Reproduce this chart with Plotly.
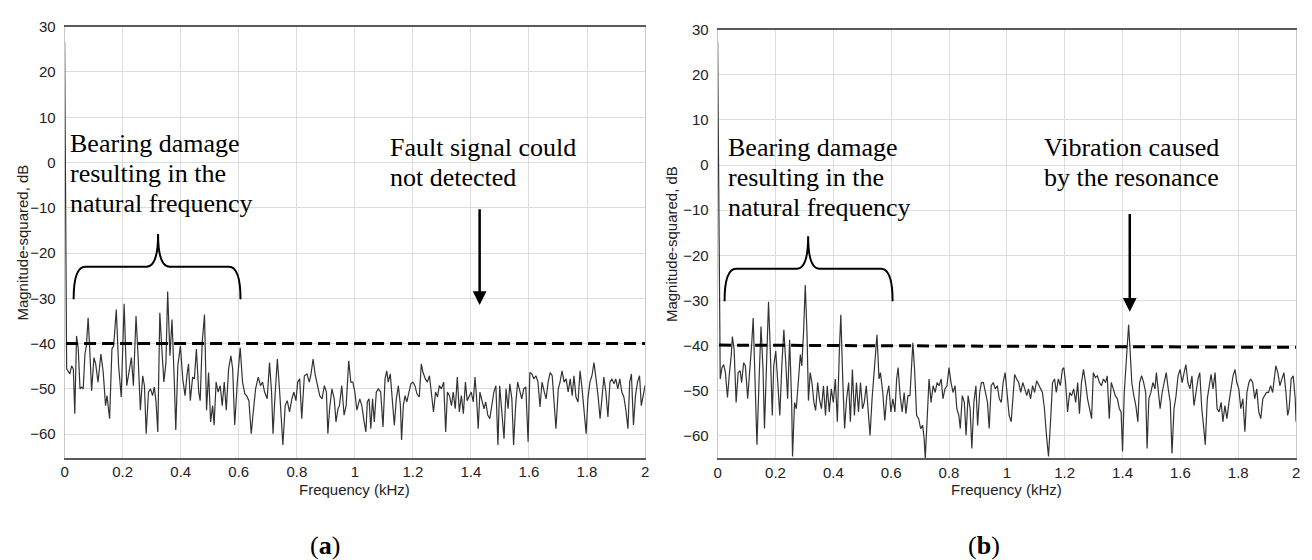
import plotly.graph_objects as go

# ---- spectrum (a): healthy-looking envelope, fault not detected ----
freq_a = [
    0.000, 0.007, 0.018, 0.024, 0.030, 0.035, 0.041, 0.047, 0.053, 0.058, 0.064, 0.070, 0.075, 0.081,
    0.087, 0.093, 0.101, 0.107, 0.115, 0.125, 0.133, 0.141, 0.146, 0.155, 0.163, 0.169, 0.178, 0.186,
    0.195, 0.205, 0.214, 0.222, 0.230, 0.237, 0.246, 0.253, 0.261, 0.269, 0.275, 0.281, 0.289, 0.296,
    0.303, 0.309, 0.315, 0.321, 0.328, 0.335, 0.342, 0.349, 0.355, 0.363, 0.370, 0.378, 0.383, 0.390,
    0.399, 0.407, 0.415, 0.422, 0.427, 0.433, 0.441, 0.447, 0.454, 0.462, 0.467, 0.474, 0.482, 0.489,
    0.496, 0.503, 0.510, 0.515, 0.522, 0.529, 0.536, 0.543, 0.550, 0.557, 0.565, 0.573, 0.579, 0.586,
    0.595, 0.605, 0.613, 0.621, 0.627, 0.635, 0.643, 0.650, 0.658, 0.667, 0.675, 0.682, 0.689, 0.698,
    0.706, 0.713, 0.718, 0.725, 0.733, 0.741, 0.746, 0.752, 0.760, 0.767, 0.775, 0.783, 0.790, 0.797,
    0.803, 0.810, 0.817, 0.826, 0.835, 0.843, 0.849, 0.856, 0.864, 0.872, 0.879, 0.887, 0.895, 0.902,
    0.907, 0.913, 0.921, 0.929, 0.935, 0.942, 0.947, 0.955, 0.963, 0.970, 0.979, 0.986, 0.993, 1.000,
    1.007, 1.017, 1.024, 1.032, 1.038, 1.043, 1.049, 1.055, 1.061, 1.067, 1.074, 1.081, 1.089, 1.097,
    1.104, 1.110, 1.115, 1.122, 1.129, 1.136, 1.143, 1.150, 1.157, 1.161, 1.167, 1.173, 1.179, 1.186,
    1.193, 1.200, 1.207, 1.214, 1.222, 1.229, 1.235, 1.243, 1.250, 1.257, 1.264, 1.271, 1.278, 1.285,
    1.291, 1.298, 1.306, 1.313, 1.319, 1.326, 1.333, 1.339, 1.346, 1.353, 1.360, 1.367, 1.374, 1.381,
    1.387, 1.394, 1.401, 1.408, 1.414, 1.419, 1.425, 1.431, 1.438, 1.445, 1.451, 1.458, 1.465, 1.472,
    1.479, 1.486, 1.493, 1.499, 1.506, 1.514, 1.521, 1.528, 1.534, 1.541, 1.547, 1.554, 1.561, 1.568,
    1.575, 1.582, 1.589, 1.597, 1.603, 1.610, 1.617, 1.624, 1.631, 1.638, 1.645, 1.653, 1.659, 1.666,
    1.673, 1.680, 1.687, 1.693, 1.701, 1.707, 1.714, 1.721, 1.728, 1.735, 1.742, 1.749, 1.755, 1.762,
    1.769, 1.776, 1.783, 1.790, 1.797, 1.803, 1.810, 1.817, 1.824, 1.831, 1.838, 1.845, 1.851, 1.858,
    1.865, 1.872, 1.879, 1.886, 1.893, 1.899, 1.906, 1.913, 1.920, 1.927, 1.934, 1.941, 1.947, 1.953,
    1.960, 1.967, 1.974, 1.981, 1.987, 1.994, 2.000,
]
mag_a = [
    26.7, -45.6, -46.7, -44.9, -45.6, -55.5, -38.3, -41.2, -50.0, -49.6, -50.0, -42.3, -40.5, -34.3,
    -42.0, -50.4, -43.1, -44.5, -48.5, -42.3, -46.4, -53.7, -51.5, -56.6, -41.2, -40.5, -32.5, -44.9,
    -51.8, -31.2, -49.3, -45.6, -43.1, -49.3, -33.9, -42.7, -54.7, -47.1, -49.3, -59.9, -50.7, -50.0,
    -51.5, -49.6, -52.9, -59.5, -33.2, -41.2, -48.5, -44.2, -28.5, -42.7, -34.7, -48.5, -59.1, -44.9,
    -40.5, -47.8, -51.5, -46.7, -44.5, -52.6, -47.4, -47.8, -41.2, -50.7, -52.6, -39.8, -33.6, -54.7,
    -46.4, -57.3, -53.7, -58.0, -48.5, -50.7, -49.3, -53.7, -48.5, -54.7, -45.6, -42.7, -45.6, -58.0,
    -48.5, -40.9, -48.5, -51.1, -51.5, -52.6, -59.9, -55.1, -50.0, -47.4, -49.3, -48.5, -50.7, -52.2,
    -44.2, -50.7, -59.9, -51.5, -43.4, -50.7, -55.8, -62.4, -53.7, -52.6, -55.1, -52.2, -50.7, -52.6,
    -48.5, -47.8, -56.6, -47.1, -46.7, -48.5, -46.7, -43.4, -47.1, -49.3, -51.5, -52.2, -49.3, -50.7,
    -59.9, -54.4, -50.0, -52.2, -57.3, -54.4, -53.7, -49.3, -55.8, -53.7, -43.8, -48.5, -48.5, -50.7,
    -54.7, -52.2, -53.7, -57.3, -59.5, -52.9, -52.2, -58.8, -52.2, -57.3, -50.7, -50.0, -50.7, -58.4,
    -47.8, -46.0, -48.5, -46.7, -52.2, -58.0, -52.2, -49.3, -53.7, -61.3, -53.7, -51.5, -52.9, -50.7,
    -48.9, -48.5, -49.3, -51.1, -51.8, -44.5, -46.4, -47.8, -48.5, -47.1, -51.5, -55.1, -50.7, -51.8,
    -49.3, -50.0, -48.5, -59.5, -50.7, -51.5, -53.7, -50.7, -54.4, -47.4, -55.1, -51.5, -55.5, -48.5,
    -52.6, -51.8, -50.7, -52.9, -47.4, -51.5, -58.8, -50.7, -52.9, -54.4, -52.9, -55.8, -56.6, -53.3,
    -50.7, -49.3, -62.4, -49.3, -54.4, -61.0, -50.0, -54.4, -48.9, -52.2, -62.4, -53.7, -48.5, -50.7,
    -52.2, -50.0, -49.6, -61.7, -46.4, -46.7, -47.8, -47.1, -48.5, -54.0, -48.5, -50.7, -52.2, -48.5,
    -46.4, -47.1, -54.4, -58.8, -50.0, -48.5, -46.0, -48.5, -47.8, -50.7, -47.8, -51.5, -47.1, -51.8,
    -52.9, -46.0, -50.0, -55.8, -59.9, -52.2, -48.5, -47.1, -44.2, -47.8, -51.5, -56.6, -52.9, -47.4,
    -50.7, -56.2, -48.5, -47.8, -48.9, -47.8, -50.0, -47.8, -50.7, -51.8, -54.7, -58.8, -48.5, -46.7,
    -58.0, -51.5, -48.5, -47.1, -53.7, -51.5, -49.3,
]

# ---- spectrum (b): resonance peak near 1.42 kHz ----
freq_b = [
    0.000, 0.009, 0.015, 0.021, 0.027, 0.034, 0.041, 0.047, 0.051, 0.057, 0.064, 0.071, 0.078, 0.083,
    0.090, 0.096, 0.104, 0.112, 0.118, 0.123, 0.130, 0.136, 0.143, 0.150, 0.157, 0.162, 0.169, 0.176,
    0.182, 0.189, 0.194, 0.201, 0.208, 0.215, 0.222, 0.229, 0.235, 0.242, 0.249, 0.256, 0.259, 0.266,
    0.272, 0.279, 0.286, 0.291, 0.297, 0.303, 0.309, 0.314, 0.320, 0.326, 0.333, 0.339, 0.346, 0.352,
    0.359, 0.366, 0.373, 0.379, 0.386, 0.393, 0.400, 0.407, 0.414, 0.421, 0.426, 0.433, 0.439, 0.446,
    0.453, 0.459, 0.466, 0.473, 0.480, 0.487, 0.494, 0.501, 0.507, 0.514, 0.521, 0.527, 0.534, 0.541,
    0.546, 0.551, 0.558, 0.563, 0.571, 0.578, 0.585, 0.592, 0.599, 0.606, 0.613, 0.619, 0.624, 0.631,
    0.638, 0.645, 0.651, 0.658, 0.665, 0.672, 0.675, 0.681, 0.688, 0.695, 0.702, 0.709, 0.714, 0.718,
    0.725, 0.731, 0.738, 0.745, 0.752, 0.759, 0.766, 0.773, 0.779, 0.786, 0.793, 0.800, 0.807, 0.814,
    0.821, 0.827, 0.834, 0.839, 0.846, 0.853, 0.859, 0.866, 0.873, 0.879, 0.886, 0.893, 0.899, 0.906,
    0.912, 0.919, 0.926, 0.933, 0.939, 0.946, 0.953, 0.960, 0.967, 0.974, 0.981, 0.987, 0.994, 1.001,
    1.008, 1.015, 1.021, 1.027, 1.034, 1.041, 1.048, 1.055, 1.062, 1.069, 1.075, 1.082, 1.089, 1.096,
    1.103, 1.110, 1.117, 1.123, 1.130, 1.137, 1.144, 1.151, 1.158, 1.165, 1.171, 1.178, 1.185, 1.192,
    1.197, 1.203, 1.210, 1.217, 1.224, 1.231, 1.238, 1.245, 1.251, 1.258, 1.265, 1.272, 1.279, 1.286,
    1.293, 1.299, 1.306, 1.313, 1.320, 1.327, 1.334, 1.341, 1.347, 1.354, 1.361, 1.368, 1.375, 1.382,
    1.389, 1.395, 1.400, 1.406, 1.411, 1.416, 1.421, 1.426, 1.432, 1.439, 1.446, 1.453, 1.459, 1.466,
    1.473, 1.480, 1.485, 1.491, 1.498, 1.505, 1.512, 1.517, 1.523, 1.530, 1.537, 1.544, 1.551, 1.558,
    1.565, 1.571, 1.578, 1.585, 1.592, 1.599, 1.606, 1.613, 1.619, 1.626, 1.633, 1.640, 1.647, 1.654,
    1.661, 1.667, 1.674, 1.681, 1.686, 1.693, 1.699, 1.706, 1.713, 1.720, 1.727, 1.734, 1.741, 1.747,
    1.754, 1.761, 1.768, 1.775, 1.782, 1.789, 1.795, 1.802, 1.809, 1.816, 1.823, 1.830, 1.837, 1.843,
    1.850, 1.857, 1.864, 1.871, 1.878, 1.885, 1.891, 1.898, 1.905, 1.912, 1.919, 1.926, 1.930, 1.937,
    1.944, 1.951, 1.958, 1.965, 1.971, 1.976, 1.983, 1.990, 1.997, 2.000,
]
mag_b = [
    27.4, -47.4, -44.9, -44.2, -46.0, -51.5, -46.0, -42.3, -38.0, -40.9, -52.6, -46.0, -45.6, -48.2,
    -43.8, -44.5, -51.8, -45.3, -39.4, -33.9, -48.2, -62.0, -48.2, -35.8, -45.3, -58.4, -44.5, -30.3,
    -40.9, -55.5, -44.5, -41.2, -48.2, -55.5, -44.5, -36.5, -43.1, -51.8, -38.7, -52.6, -64.6, -52.6,
    -54.0, -46.7, -42.0, -44.5, -37.2, -26.6, -37.2, -52.2, -46.0, -48.2, -52.6, -54.4, -48.2, -51.8,
    -54.0, -48.9, -55.5, -48.9, -54.7, -49.6, -52.6, -47.4, -56.9, -40.9, -33.2, -48.2, -58.4, -51.8,
    -48.2, -56.9, -45.3, -55.5, -48.2, -54.7, -48.2, -54.0, -52.6, -48.9, -54.0, -59.9, -51.8, -45.3,
    -40.9, -37.6, -47.4, -46.0, -50.4, -56.6, -51.1, -48.9, -54.7, -51.8, -54.7, -47.4, -44.9, -51.1,
    -54.7, -50.4, -55.1, -51.1, -51.1, -43.1, -39.4, -45.3, -55.5, -56.2, -58.4, -57.7, -60.6, -65.0,
    -55.5, -47.4, -52.6, -48.9, -50.4, -48.2, -48.9, -47.4, -51.8, -49.6, -48.9, -44.9, -48.2, -50.4,
    -48.9, -54.0, -55.5, -58.4, -51.1, -52.6, -59.9, -51.1, -54.0, -62.8, -52.6, -48.9, -57.7, -50.4,
    -48.2, -48.2, -50.4, -52.6, -58.4, -48.9, -48.2, -49.6, -48.9, -51.8, -52.6, -48.2, -46.0, -51.1,
    -55.5, -56.9, -50.4, -46.4, -47.4, -48.2, -50.4, -48.2, -49.6, -51.1, -49.6, -51.8, -48.9, -50.4,
    -47.8, -48.9, -49.6, -50.4, -54.0, -59.9, -64.6, -56.9, -48.2, -47.4, -50.4, -47.4, -48.9, -45.3,
    -44.9, -48.2, -54.7, -50.4, -51.1, -49.6, -52.6, -48.2, -55.1, -48.2, -45.3, -48.2, -51.8, -54.0,
    -56.2, -46.0, -47.1, -46.7, -48.2, -48.9, -47.4, -48.2, -46.7, -56.2, -48.2, -49.6, -51.1, -51.8,
    -54.0, -54.7, -63.5, -50.4, -44.5, -39.4, -35.4, -40.9, -48.2, -51.1, -53.3, -56.9, -48.2, -46.7,
    -48.2, -50.4, -62.8, -51.8, -50.4, -48.2, -49.6, -46.0, -49.6, -54.0, -50.4, -48.2, -46.0, -49.6,
    -52.6, -63.9, -54.0, -51.1, -46.7, -45.3, -48.2, -46.0, -44.2, -48.2, -49.6, -46.7, -53.3, -50.4,
    -47.4, -46.0, -54.0, -58.4, -62.0, -51.8, -48.9, -46.4, -49.6, -46.0, -54.0, -54.7, -52.6, -56.9,
    -53.3, -56.2, -52.6, -49.6, -46.7, -45.3, -48.2, -49.6, -54.0, -51.8, -59.1, -50.4, -48.2, -47.4,
    -48.2, -51.8, -49.6, -54.7, -56.2, -51.8, -51.1, -50.4, -50.4, -48.9, -50.4, -46.7, -44.5, -46.0,
    -48.9, -47.4, -46.0, -50.4, -55.5, -54.0, -47.4, -46.7, -51.8, -56.9,
]

# axis ticks
x_ticks = [0, 0.2, 0.4, 0.6, 0.8, 1.0, 1.2, 1.4, 1.6, 1.8, 2.0]
x_tick_text = ["0", "0.2", "0.4", "0.6", "0.8", "1", "1.2", "1.4", "1.6", "1.8", "2"]
y_ticks = [-60, -50, -40, -30, -20, -10, 0, 10, 20, 30]

# threshold level, dB (left / right end)
threshold_a = (-40.0, -40.0)
threshold_b = (-39.9, -40.4)

# callout texts, one entry per line
bearing_lines = ["Bearing damage", "resulting in the", "natural frequency"]
fault_lines = ["Fault signal could", "not detected"]
resonance_lines = ["Vibration caused", "by the resonance"]

W, H = 1312, 560
SANS = "Liberation Sans, Arial, sans-serif"
SERIF = "Liberation Serif, Times New Roman, serif"
GRID = "#dcdcdc"
CURVE = "#333333"

fig = go.Figure()
fig.add_trace(go.Scatter(x=freq_a, y=mag_a, mode="lines", xaxis="x", yaxis="y",
                         line=dict(color=CURVE, width=1.2), hoverinfo="skip"))
fig.add_trace(go.Scatter(x=freq_b, y=mag_b, mode="lines", xaxis="x2", yaxis="y2",
                         line=dict(color=CURVE, width=1.2), hoverinfo="skip"))


def xaxis_style(left_px, right_px, anchor):
    return dict(domain=[left_px / W, right_px / W], range=[0, 2], anchor=anchor,
                tickmode="array", tickvals=x_ticks, ticktext=x_tick_text,
                showgrid=True, gridcolor=GRID, gridwidth=1, zeroline=False,
                showline=True, linecolor="#5a5a5a", linewidth=1.5, mirror=True,
                ticks="", ticklabelstandoff=0,
                tickfont=dict(family=SANS, size=15, color="#222222"))


def yaxis_style(top_px, bottom_px, lo, anchor):
    return dict(domain=[1 - bottom_px / H, 1 - top_px / H], range=[lo, 30], anchor=anchor,
                tickmode="array", tickvals=y_ticks,
                showgrid=True, gridcolor=GRID, gridwidth=1, zeroline=False,
                showline=True, linecolor="#c8c8c8", linewidth=1, mirror=True,
                ticks="", ticklabelstandoff=5,
                tickfont=dict(family=SANS, size=15, color="#222222"))


fig.update_layout(
    width=W, height=H, margin=dict(l=0, r=0, t=0, b=0),
    paper_bgcolor="white", plot_bgcolor="white", showlegend=False,
    xaxis=xaxis_style(61, 645, "y"),
    yaxis=yaxis_style(18, 456, -65.2, "x"),
    xaxis2=xaxis_style(718, 1300, "y2"),
    yaxis2=yaxis_style(21, 456.7, -65.0, "x2"),
)


def brace_path(x0, x1, xm, y_foot, y_bar, y_tip, rx):
    return (f"M {x0},{y_foot} Q {x0},{y_bar} {x0 + rx},{y_bar} "
            f"L {xm - rx},{y_bar} Q {xm},{y_bar} {xm},{y_tip} "
            f"Q {xm},{y_bar} {xm + rx},{y_bar} L {x1 - rx},{y_bar} "
            f"Q {x1},{y_bar} {x1},{y_foot}")


shapes = []
for xr, yr, thr, (b0, b1, bm) in [("x", "y", threshold_a, (0.031, 0.606, 0.322)),
                                  ("x2", "y2", threshold_b, (0.024, 0.605, 0.313))]:
    shapes.append(dict(type="line", xref=xr, yref=yr, x0=0.005, x1=2.0, y0=thr[0], y1=thr[1],
                       line=dict(color="black", width=3, dash="12px,6px")))
    shapes.append(dict(type="path", xref=xr, yref=yr,
                       path=brace_path(b0, b1, bm, -30.2, -23.0, -15.8, 0.04),
                       line=dict(color="black", width=2)))
fig.update_layout(shapes=shapes)

ann = []
txt_font = dict(family=SERIF, size=26, color="black")


def text_block(xr, yr, x, y_levels, lines):
    for yv, line in zip(y_levels, lines):
        ann.append(dict(xref=xr, yref=yr, x=x, y=yv, xanchor="left", yanchor="middle",
                        text=line, showarrow=False, font=txt_font))


text_block("x", "y", 0.013, [4.15, -2.35, -8.95], bearing_lines)
text_block("x", "y", 1.113, [3.25, -3.25], fault_lines)
text_block("x2", "y2", 0.029, [3.85, -2.85, -9.45], bearing_lines)
text_block("x2", "y2", 1.123, [3.95, -2.75], resonance_lines)

# pointer arrows
for xr, yr, xa, y_from, y_to in [("x", "y", 1.43, -10.0, -31.5), ("x2", "y2", 1.425, -10.5, -32.5)]:
    ann.append(dict(xref=xr, yref=yr, axref=xr, ayref=yr, x=xa, y=y_to, ax=xa, ay=y_from, text="",
                    showarrow=True, arrowhead=2, arrowsize=1.1, arrowwidth=2.5, arrowcolor="black"))

# axis titles and panel labels
title_font = dict(family=SANS, size=15, color="#222222")
for cx, cy_title, px_label, label in [(353, 237, 323, "a"), (1009, 239, 986, "b")]:
    ann.append(dict(xref="paper", yref="paper", x=cx / W, y=1 - 488 / H, text="Frequency (kHz)",
                    showarrow=False, font=title_font, xanchor="center", yanchor="middle"))
    ann.append(dict(xref="paper", yref="paper", x=(18.5 if label == "a" else 671) / W, y=1 - cy_title / H,
                    text="Magnitude-squared, dB", textangle=-90, showarrow=False, font=title_font,
                    xanchor="center", yanchor="middle"))
    ann.append(dict(xref="paper", yref="paper", x=px_label / W, y=1 - 545 / H, text=f"(<b>{label}</b>)",
                    showarrow=False, font=dict(family=SERIF, size=26, color="black"),
                    xanchor="center", yanchor="middle"))
fig.update_layout(annotations=ann)

fig.write_html("out.html", config={"displayModeBar": False})
